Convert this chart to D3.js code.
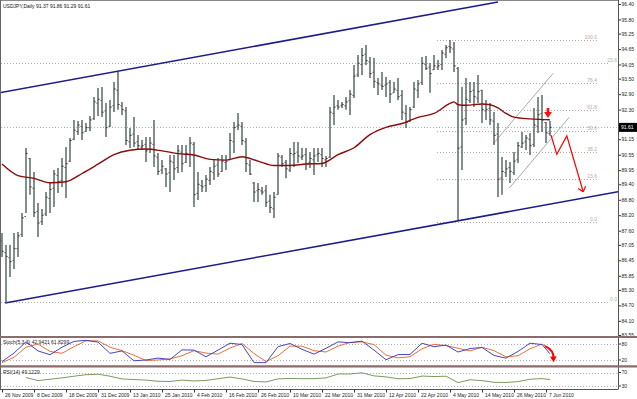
<!DOCTYPE html>
<html>
<head>
<meta charset="utf-8">
<script src="https://cdn.jsdelivr.net/npm/d3@7/dist/d3.min.js"></script>
<style>
body { margin: 0; background: #fff; }
svg text { font-family: "Liberation Sans", Arial, sans-serif; }
</style>
</head>
<body>
<script>
// price axis labels (right side)
const priceTicks = ["96.40","95.80","95.25","94.65","94.05","93.50","92.90","92.30","91.70","91.15","90.55",
  "89.95","89.40","88.80","88.20","87.60","87.05","86.45","85.85","85.30","84.70","84.10","83.55"];

// one label every 8 bars, starting at bar 0
const dateLabels = ["26 Nov 2009","8 Dec 2009","18 Dec 2009","31 Dec 2009","13 Jan 2010","25 Jan 2010",
  "4 Feb 2010","16 Feb 2010","26 Feb 2010","10 Mar 2010","22 Mar 2010","31 Mar 2010","12 Apr 2010",
  "22 Apr 2010","4 May 2010","14 May 2010","26 May 2010","7 Jun 2010"];

// daily bars USDJPY
const opens = [87.20,86.75,86.55,86.45,86.90,87.45,88.15,90.40,89.25,88.35,
  87.95,88.25,88.85,89.25,89.75,89.55,90.05,90.30,91.15,91.45,
  91.65,91.45,91.60,91.95,92.55,92.65,92.25,91.65,92.45,93.05,
  92.45,92.25,91.05,91.35,91.05,90.85,90.95,90.75,90.95,90.45,
  89.95,90.00,89.85,90.25,90.05,90.65,90.25,90.55,90.95,89.05,
  89.35,89.35,89.55,89.85,90.15,89.90,90.25,90.35,91.05,91.65,
  91.65,91.05,90.15,89.45,89.15,89.15,89.15,88.75,88.45,89.00,
  90.45,90.25,89.95,90.55,90.65,90.45,90.55,90.25,90.35,90.55,
  90.55,90.35,90.45,92.15,92.45,92.45,92.45,92.65,92.85,93.65,
  94.05,94.45,94.15,93.75,93.35,93.25,93.25,93.35,92.95,93.05,
  92.85,92.15,91.85,92.40,93.05,93.35,94.05,93.95,93.85,93.95,
  94.05,94.45,94.75,94.65,93.90,90.85,91.95,92.65,93.05,92.75,
  93.05,92.25,92.35,91.85,91.35,89.65,89.85,90.05,89.85,90.35,
  90.85,91.05,91.15,90.95,91.65,92.15,91.80,91.37];
const highs = [87.51,87.04,87.04,87.51,87.55,88.29,90.81,90.42,89.88,88.67,
  88.44,89.10,89.45,89.96,90.03,90.42,90.85,91.20,91.90,91.86,
  91.90,91.78,92.05,92.79,93.14,93.18,92.56,92.67,93.37,93.76,
  92.60,92.40,91.59,92.01,91.31,91.12,91.24,91.24,91.90,90.62,
  90.34,90.03,90.54,90.54,90.93,90.93,90.93,91.24,91.04,89.88,
  89.57,89.76,90.07,90.34,90.42,90.54,90.54,91.39,91.82,92.17,
  91.82,91.20,90.34,89.49,89.45,89.30,89.37,88.99,89.10,90.62,
  90.54,90.34,90.81,91.04,91.04,90.81,90.81,90.65,90.81,90.81,
  90.81,90.50,92.40,92.87,92.67,92.60,92.79,93.06,94.03,94.42,
  94.69,94.81,94.34,94.30,93.53,93.76,93.57,93.45,93.37,93.53,
  93.06,92.48,92.40,93.37,93.45,94.34,94.38,94.11,94.42,94.23,
  94.61,94.81,95.00,94.92,93.95,93.18,93.53,93.37,93.37,93.64,
  93.06,92.67,92.56,92.21,91.78,90.46,90.34,90.27,90.65,91.04,
  91.43,91.31,91.39,92.36,92.79,92.87,91.82,91.86];
const lows = [86.58,84.79,85.80,86.11,86.58,87.35,88.29,88.99,88.13,87.35,
  87.82,88.17,88.29,88.52,89.06,89.30,88.87,90.27,91.12,91.31,
  91.12,91.43,91.47,91.90,92.05,92.01,91.24,91.63,92.21,92.29,
  92.09,90.93,90.81,90.85,90.73,90.73,90.27,90.62,90.07,89.76,
  89.80,89.30,89.10,89.57,89.84,89.88,90.23,90.07,88.52,88.79,
  89.10,89.10,89.37,89.57,89.68,89.88,89.96,90.34,90.62,91.51,
  90.93,89.88,89.76,88.71,88.71,88.99,88.52,88.29,88.09,88.99,
  90.07,89.64,89.88,90.07,90.23,90.34,89.96,90.03,89.76,90.27,
  90.07,90.07,90.42,91.70,92.29,92.36,92.29,92.09,92.75,93.57,
  93.64,94.03,93.53,93.14,92.87,93.06,92.79,92.56,92.95,92.67,
  91.90,91.59,91.82,92.36,92.75,93.26,93.84,92.95,93.84,93.84,
  93.84,94.30,94.50,93.76,88.01,89.96,91.70,92.56,92.40,92.56,
  91.78,91.90,91.70,90.93,88.91,88.99,89.68,89.45,89.76,90.23,
  90.81,90.73,90.54,90.85,91.39,91.43,91.00,91.29];
const closes = [86.80,86.60,86.40,86.90,87.40,88.10,90.60,89.30,88.30,87.90,
  88.20,88.90,89.20,89.80,89.50,90.10,90.20,91.10,91.50,91.70,
  91.40,91.60,91.90,92.60,92.70,92.20,91.60,92.40,93.10,92.50,
  92.30,91.10,91.30,91.00,90.90,90.90,90.70,91.00,90.50,89.90,
  90.10,89.80,90.30,90.00,90.70,90.20,90.60,91.00,89.00,89.40,
  89.30,89.60,89.90,90.10,89.80,90.30,90.30,91.10,91.60,91.70,
  91.10,90.20,89.80,89.10,89.20,89.10,88.70,88.50,88.90,90.50,
  90.20,90.00,90.60,90.60,90.50,90.50,90.20,90.40,90.50,90.60,
  90.40,90.40,92.20,92.40,92.40,92.50,92.60,92.90,93.60,94.10,
  94.40,94.20,93.70,93.40,93.30,93.20,93.30,92.90,93.10,92.80,
  92.20,91.80,92.30,93.10,93.30,94.10,93.90,93.70,94.00,94.00,
  94.50,94.70,94.70,94.00,90.80,91.90,92.70,93.00,92.80,93.00,
  92.30,92.30,91.90,91.30,89.60,89.90,90.00,89.90,90.30,90.90,
  91.00,91.20,90.90,91.70,92.10,91.90,91.40,91.61];

// moving average
const maBars = [0,4,8,12,16,20,24,28,32,36,40,44,48,52,56,60,64,68,72,76,80,84,88,92,96,100,104,108,
  112,113,114,116,120,122,124,126,128,132,136,137];
const maValues = [90.19,89.74,89.63,89.46,89.50,89.82,90.18,90.55,90.72,90.77,90.70,90.59,90.54,90.37,
  90.34,90.47,90.30,90.13,90.13,90.19,90.21,90.55,90.82,91.33,91.61,91.76,92.00,92.15,
  92.54,92.60,92.49,92.47,92.52,92.49,92.37,92.15,92.01,91.94,91.91,91.90];

// oscillators, read every 3 bars + last bar
const oscBars = d3.range(0, 136, 3).concat([137]);
const stochMain = [14,46,88,54,40,68,90,94,87,45,54,17,20,27,22,58,57,32,57,83,78,10,10,70,82,
  60,42,64,88,85,91,57,21,40,41,83,70,76,50,63,67,37,27,52,83,78,42.94];
const stochSignal = [10,30,68,80,52,45,70,92,92,68,55,38,18,20,24,36,55,46,42,65,82,44,14,36,72,
  72,55,50,72,86,88,78,38,28,32,62,79,74,64,54,68,55,32,36,62,80,61.83];
const rsiValues = [null,null,55,46,50,54,59,63.5,65,59,51,49,47.5,44,43.5,47.5,45,46.5,51.5,56.5,
  51,43.5,42,51,52.5,51.6,51.8,54,65.6,65.6,69,60,57,51.5,52,59.4,58,59,40,48.5,46,41,40.5,43,50,52,49.12];

const fibLevels = [0, 23.6, 38.2, 50, 61.8, 76.4, 100];
const fibSwing = { low: 87.94, high: 95.00, from: 108.75, to: 148.75 };
const fibLong = { low: 84.82, high: 124.14, from: -1, to: 151.5 };

const channelLines = [
  { b1: -0.5, p1: 92.96, b2: 124, p2: 96.48 },
  { b1: 0.75, p1: 84.79, b2: 154, p2: 89.11 }
];
const miniChannel = [
  { b1: 122.8, p1: 90.97, b2: 137.8, p2: 93.71 },
  { b1: 126.8, p1: 89.25, b2: 141.8, p2: 92.00 }
];
const projBars = [137.25, 138.7, 141.2, 145.3];
const projPrices = [91.31, 90.57, 91.28, 89.11];
const stochArrow = { b1: 135.75, v1: 72, b2: 137.9, v2: 17 };
const signalArrow = { bar: 136.5, price: 91.97 };
const lastQuote = { open: 91.37, high: 91.86, low: 91.29, close: 91.61 };
const stochLast = [42.9421, 61.8299];
const rsiLast = 49.1229;

const W = 637, H = 399, R = 618;

const svg = d3.select("body").append("svg")
    .attr("width", W)
    .attr("height", H);

const x = d3.scaleLinear().domain([0, 154]).range([2, R]);
const y = d3.scaleLinear().domain([83.55, 96.40]).range([335, 4]);
const ys = d3.scaleLinear().domain([0, 100]).range([365.3, 338.7]);
const yr = d3.scaleLinear().domain([30, 70]).range([386, 372.5]);

const defs = svg.append("defs");
defs.append("clipPath").attr("id", "mainClip")
    .append("rect").attr("x", 1).attr("y", 1).attr("width", R - 1).attr("height", 335);
defs.append("clipPath").attr("id", "stochClip")
    .append("rect").attr("x", 1).attr("y", 338).attr("width", R - 1).attr("height", 28);
defs.append("clipPath").attr("id", "rsiClip")
    .append("rect").attr("x", 1).attr("y", 368).attr("width", R - 1).attr("height", 21);

const main = svg.append("g").attr("clip-path", "url(#mainClip)");

// fibonacci levels
function drawFib(f, color, labelX) {
    fibLevels.forEach(lv => {
        const p = f.low + lv / 100 * (f.high - f.low);
        if (p < 83.55 || p > 96.40) return;
        main.append("line")
            .attr("x1", x(f.from)).attr("x2", x(f.to))
            .attr("y1", Math.round(y(p)) + 0.5).attr("y2", Math.round(y(p)) + 0.5)
            .attr("stroke", color).attr("stroke-dasharray", "1,2");
        main.append("text")
            .attr("x", labelX).attr("y", Math.round(y(p)) - 1)
            .attr("text-anchor", "end")
            .attr("font-size", 5)
            .attr("fill", color)
            .text(lv.toFixed(1));
    });
}
drawFib(fibLong, "#a3b3a8", R - 1);
drawFib(fibSwing, "#bfa5a0", x(fibSwing.to));

// bid line
main.append("line")
    .attr("x1", 1).attr("x2", R)
    .attr("y1", Math.round(y(lastQuote.close)) + 0.5).attr("y2", Math.round(y(lastQuote.close)) + 0.5)
    .attr("stroke", "#8fc4cc").attr("stroke-dasharray", "1,2");

// trend channel
channelLines.forEach(l => {
    main.append("line")
        .attr("x1", x(l.b1)).attr("y1", y(l.p1))
        .attr("x2", x(l.b2)).attr("y2", y(l.p2))
        .attr("stroke", "#1c1c8a").attr("stroke-width", 1.5);
});
miniChannel.forEach(l => {
    main.append("line")
        .attr("x1", x(l.b1)).attr("y1", y(l.p1))
        .attr("x2", x(l.b2)).attr("y2", y(l.p2))
        .attr("stroke", "#a9a9a9").attr("stroke-width", 1);
});

// bars
const bars = main.append("g").attr("stroke", "#4e5f57");
highs.forEach((h, i) => {
    const cx = x(i);
    bars.append("line").attr("x1", cx).attr("x2", cx)
        .attr("y1", y(h)).attr("y2", y(lows[i])).attr("stroke-width", 1.4);
    bars.append("line").attr("x1", cx - 1.6).attr("x2", cx)
        .attr("y1", y(opens[i])).attr("y2", y(opens[i])).attr("stroke", "#7a4a5a").attr("stroke-width", 1);
    bars.append("line").attr("x1", cx).attr("x2", cx + 1.6)
        .attr("y1", y(closes[i])).attr("y2", y(closes[i])).attr("stroke", "#3a2a30").attr("stroke-width", 1);
});

// moving average
main.append("path")
    .datum(maBars.map((b, i) => [b, maValues[i]]))
    .attr("fill", "none")
    .attr("stroke", "#8b0a0a")
    .attr("stroke-width", 1.4)
    .attr("d", d3.line().x(d => x(d[0])).y(d => y(d[1])).curve(d3.curveMonotoneX));

// projected path
const proj = projBars.map((b, i) => [x(b), y(projPrices[i])]);
main.append("path")
    .attr("d", d3.line()(proj))
    .attr("fill", "none").attr("stroke", "#ff0000").attr("stroke-width", 1.2);
const tip = proj[proj.length - 1], prev = proj[proj.length - 2];
const ang = Math.atan2(tip[1] - prev[1], tip[0] - prev[0]);
[-0.7, 0.7].forEach(a => {
    main.append("line")
        .attr("x1", tip[0]).attr("y1", tip[1])
        .attr("x2", tip[0] - 6 * Math.cos(ang + a)).attr("y2", tip[1] - 6 * Math.sin(ang + a))
        .attr("stroke", "#ff0000").attr("stroke-width", 1.2);
});

// sell arrow
const ax = x(signalArrow.bar), ay = y(signalArrow.price);
main.append("path")
    .attr("d", `M${ax - 1.3},${ay - 10}h2.6v4h2.6l-3.9,6l-3.9,-6h2.6z`)
    .attr("fill", "#ff1010");

// right price axis
const yAxis = d3.axisRight(y)
    .tickValues(priceTicks.map(Number).filter(v => Math.abs(y(v) - y(lastQuote.close)) > 6))
    .tickFormat(d3.format(".2f"))
    .tickSize(3);
const ya = svg.append("g").attr("transform", `translate(${R},0)`).call(yAxis);
ya.select(".domain").remove();
ya.selectAll("line").attr("stroke", "#333");
ya.selectAll("text").attr("font-size", 5).attr("fill", "#222").attr("x", 3.5);

svg.append("rect")
    .attr("x", R).attr("y", y(lastQuote.close) - 4.5)
    .attr("width", W - R).attr("height", 9).attr("fill", "#000");
svg.append("text")
    .attr("x", R + 3).attr("y", y(lastQuote.close) + 2)
    .attr("font-size", 5).attr("fill", "#fff")
    .text(lastQuote.close.toFixed(2));

// stochastic panel
const stoch = svg.append("g").attr("clip-path", "url(#stochClip)");
[80, 20].forEach(v => {
    stoch.append("line").attr("x1", 1).attr("x2", R)
        .attr("y1", Math.round(ys(v)) + 0.5).attr("y2", Math.round(ys(v)) + 0.5)
        .attr("stroke", "#b4b4b4").attr("stroke-dasharray", "1,2");
});
const oscLine = sc => d3.line().defined(d => d[1] != null).x(d => x(d[0])).y(d => sc(d[1]));
stoch.append("path")
    .attr("d", oscLine(ys)(oscBars.map((b, i) => [b, stochSignal[i]])))
    .attr("fill", "none").attr("stroke", "#e8703a").attr("stroke-width", 1);
stoch.append("path")
    .attr("d", oscLine(ys)(oscBars.map((b, i) => [b, stochMain[i]])))
    .attr("fill", "none").attr("stroke", "#4646c0").attr("stroke-width", 1);

const s1 = [x(stochArrow.b1), ys(stochArrow.v1)], s2 = [x(stochArrow.b2), ys(stochArrow.v2)];
svg.append("path")
    .attr("d", `M${s1[0]},${s1[1]}Q${s2[0]},${s1[1] + 4} ${s2[0]},${s2[1] - 3}`)
    .attr("fill", "none").attr("stroke", "#ff0000").attr("stroke-width", 2);
svg.append("path")
    .attr("d", `M${s2[0] - 3.5},${s2[1] - 4}L${s2[0] + 3},${s2[1] - 4.5}L${s2[0]},${s2[1] + 1.5}z`)
    .attr("fill", "#ff0000");

svg.append("text").attr("x", 3).attr("y", 343.5).attr("font-size", 5).attr("fill", "#222")
    .text(`Stoch(5,3,3) ${stochLast[0].toFixed(4)} ${stochLast[1].toFixed(4)}`);

// RSI panel
const rsi = svg.append("g").attr("clip-path", "url(#rsiClip)");
[70, 30].forEach(v => {
    rsi.append("line").attr("x1", 1).attr("x2", R)
        .attr("y1", Math.round(yr(v)) + 0.5).attr("y2", Math.round(yr(v)) + 0.5)
        .attr("stroke", "#b4b4b4").attr("stroke-dasharray", "1,2");
});
rsi.append("path")
    .attr("d", oscLine(yr)(oscBars.map((b, i) => [b, rsiValues[i]])))
    .attr("fill", "none").attr("stroke", "#7c9a62").attr("stroke-width", 1);
svg.append("text").attr("x", 3).attr("y", 374).attr("font-size", 5).attr("fill", "#222")
    .text(`RSI(14) ${rsiLast.toFixed(4)}`);

// indicator scale labels
[[ys, [80, 20]], [yr, [70, 30]]].forEach(([sc, vals]) => {
    vals.forEach(v => {
        svg.append("line").attr("x1", R).attr("x2", R + 3)
            .attr("y1", sc(v)).attr("y2", sc(v)).attr("stroke", "#333");
        svg.append("text").attr("x", R + 3.5).attr("y", sc(v) + 1.8)
            .attr("font-size", 5).attr("fill", "#222").text(v);
    });
});

// frames and separators
svg.append("line").attr("x1", 0.5).attr("x2", R).attr("y1", 0.5).attr("y2", 0.5).attr("stroke", "#888");
svg.append("line").attr("x1", 0.5).attr("x2", 0.5).attr("y1", 0).attr("y2", 389.5).attr("stroke", "#666");
svg.append("line").attr("x1", R + 0.5).attr("x2", R + 0.5).attr("y1", 0).attr("y2", 389.5).attr("stroke", "#555");
[337, 366.3].forEach(sy => {
    svg.append("line").attr("x1", 0).attr("x2", W).attr("y1", sy).attr("y2", sy)
        .attr("stroke", "#8a6c6c").attr("stroke-width", 2.2);
});
svg.append("line").attr("x1", 0).attr("x2", R).attr("y1", 389.5).attr("y2", 389.5).attr("stroke", "#555");

// date axis
const xAxis = d3.axisBottom(x)
    .tickValues(d3.range(0, dateLabels.length * 8, 8))
    .tickFormat((d, i) => dateLabels[i])
    .tickSize(3);
const xa = svg.append("g").attr("transform", "translate(0,389.5)").call(xAxis);
xa.select(".domain").remove();
xa.selectAll("line").attr("stroke", "#333");
xa.selectAll("text").attr("font-size", 5).attr("fill", "#222")
    .attr("text-anchor", "start").attr("x", 2.5).attr("dy", 0).attr("y", 7);

// title
svg.append("text").attr("x", 3).attr("y", 7.5).attr("font-size", 5).attr("fill", "#111")
    .text(`USDJPY,Daily  ${lastQuote.open.toFixed(2)} ${lastQuote.high.toFixed(2)} ${lastQuote.low.toFixed(2)} ${lastQuote.close.toFixed(2)}`);
</script>
</body>
</html>
